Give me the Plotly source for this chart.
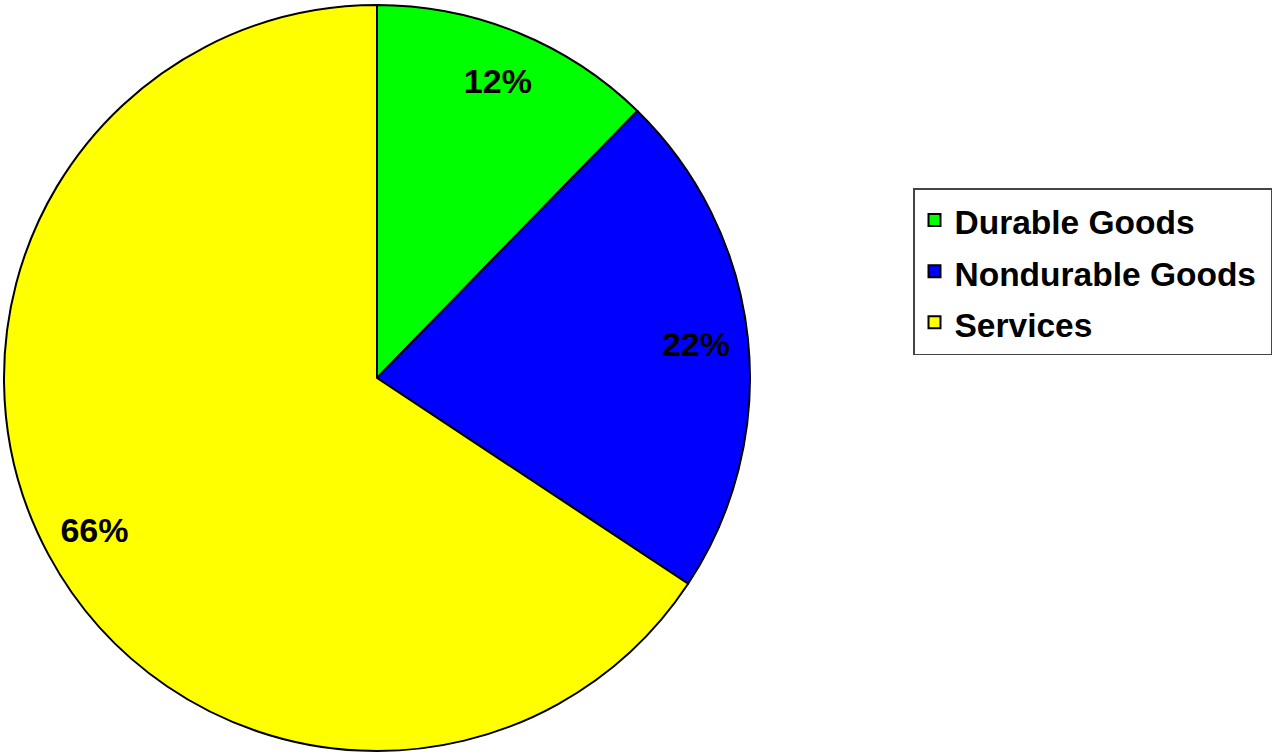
import plotly.graph_objects as go

categories = ["Durable Goods", "Nondurable Goods", "Services"]
values = [12.3, 22.0, 65.7]
colors = ["#00FF00", "#0000FF", "#FFFF00"]

W, H = 1272, 754
FONT = "Liberation Sans, Arial, sans-serif"
dom = dict(x=[4 / W, 750 / W], y=[3 / H, 749 / H])

# legend text drawn at 33.5px while the legend line height uses a larger base size
legend_labels = [f"<span style='font-size:33.5px'>{c}&nbsp;</span>" for c in categories]

# filled pie (no text)
pie_main = go.Pie(
    labels=legend_labels,
    values=values,
    sort=False,
    direction="clockwise",
    rotation=0,
    marker=dict(colors=colors, line=dict(color="black", width=2)),
    textinfo="none",
    domain=dom,
    customdata=categories,
    hovertemplate="%{customdata}: %{percent:.0%}<extra></extra>",
)

# transparent ring overlay used only to place percentage labels near the rim
pie_text = go.Pie(
    labels=legend_labels,
    values=values,
    sort=False,
    direction="clockwise",
    rotation=0,
    hole=0.72,
    marker=dict(colors=["rgba(0,0,0,0)"] * len(categories), line=dict(width=0)),
    texttemplate="%{percent:.0%}",
    textposition="inside",
    insidetextorientation="horizontal",
    textfont=dict(family=FONT, size=34, color="black", weight="bold"),
    domain=dom,
    showlegend=False,
    hoverinfo="skip",
)

fig = go.Figure([pie_main, pie_text])

fig.update_layout(
    width=W, height=H,
    margin=dict(l=0, r=0, t=0, b=0),
    paper_bgcolor="white",
    plot_bgcolor="white",
    showlegend=True,
    legend=dict(
        x=913 / W, y=1 - 188 / H, xanchor="left", yanchor="top",
        bordercolor="#444444", borderwidth=1.5, bgcolor="white",
        font=dict(family=FONT, size=37, color="black", weight="bold"),
        itemwidth=30,
    ),
)

fig.write_html("out.html", config={"displayModeBar": False},
               post_script="document.body.style.margin='0';")
